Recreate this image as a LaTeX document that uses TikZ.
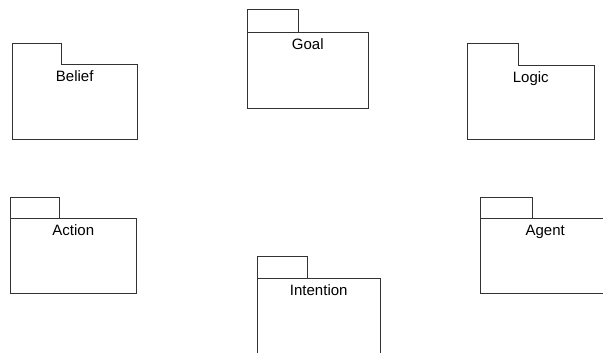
\documentclass[tikz,border=0pt]{standalone}
\usepackage{fontspec}
\setmainfont{Liberation Sans}
\usepackage{tikz}
\usetikzlibrary{positioning}
\newcommand{\pkgfont}{\fontsize{15}{18}\selectfont}

\begin{document}
\begin{tikzpicture}[x=1pt, y=-1pt, node distance=6.5pt, line width=0.5pt]
  \tikzstyle{pkg} = [rectangle, draw=black!80, minimum width=125pt, minimum height=75pt, anchor=north west, inner sep=0pt]
  \tikzstyle{folder} = [pkg, draw=none]
  \tikzstyle{pkgtab} = [draw=black!80]
  \tikzstyle{pkgname} = [inner sep=0pt, text height=11pt, text depth=3pt, font=\pkgfont]

  \clip (0,0) rectangle (603,353);

  % packages whose tab sits on the body outline
  \node[folder] (belief) at (12,64) {};
  \draw[pkgtab] (belief.south west) -- ++(0,-96) -- ++(49,0) |- (belief.north east) -- (belief.south east) -- cycle;
  \node[pkgname, below=of belief.north] (beliefname) {Belief};

  \node[folder, minimum width=127pt, minimum height=74pt] (logic) at (467,65) {};
  \draw[pkgtab] (logic.south west) -- ++(0,-96) -- ++(51,0) |- (logic.north east) -- (logic.south east) -- cycle;
  \node[pkgname, below=of logic.north] (logicname) {Logic};

  % packages with a separate tab
  \node[pkg, minimum width=121pt, minimum height=76pt] (goal) at (247,32) {};
  \draw[pkgtab] (goal.north west) rectangle ++(51,-23);
  \node[pkgname, below=of goal.north] (goalname) {Goal};

  \node[pkg, minimum width=126pt] (action) at (10,218) {};
  \draw[pkgtab] (action.north west) rectangle ++(49,-21);
  \node[pkgname, below=of action.north] (actionname) {Action};

  \node[pkg, minimum width=123pt, minimum height=80pt] (intention) at (257,278) {};
  \draw[pkgtab] (intention.north west) rectangle ++(50,-22);
  \node[pkgname, below=of intention.north] (intentionname) {Intention};

  % right side runs off the page, so leave it open
  \node[folder, minimum width=130pt] (agent) at (480,218) {};
  \draw[pkgtab] (agent.north east) -- (agent.north west) -- (agent.south west) -- (agent.south east);
  \draw[pkgtab] (agent.north west) rectangle ++(52,-21);
  \node[pkgname, below=of agent.north] (agentname) {Agent};
\end{tikzpicture}
\end{document}
